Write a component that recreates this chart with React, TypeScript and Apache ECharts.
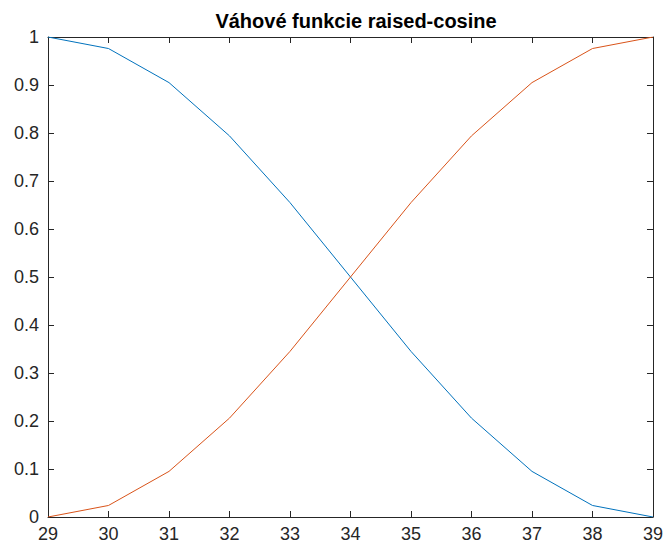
import React, { useEffect, useRef } from "react";
import * as echarts from "echarts";

const xValues = [29, 30, 31, 32, 33, 34, 35, 36, 37, 38, 39];
const fallingValues = [1, 0.976, 0.905, 0.794, 0.655, 0.5, 0.345, 0.206, 0.095, 0.024, 0];
const risingValues = [0, 0.024, 0.095, 0.206, 0.345, 0.5, 0.655, 0.794, 0.905, 0.976, 1];
const titleText = "Váhové funkcie raised-cosine";

export default function App() {
  const ref = useRef<HTMLDivElement>(null);
  useEffect(() => {
    if (!ref.current) return;
    const chart = echarts.init(ref.current, undefined, { renderer: "svg" });
    const axisColor = "#262626";
    const font = "Liberation Sans, Arial, Helvetica, sans-serif";
    const baseX = {
      type: "value" as const,
      min: 29,
      max: 39,
      interval: 1,
      axisLine: { show: true, onZero: false, lineStyle: { color: axisColor, width: 1 } },
      axisTick: { show: true, inside: true, length: 6, lineStyle: { color: axisColor } },
      splitLine: { show: false },
    };
    const baseY = {
      type: "value" as const,
      min: 0,
      max: 1,
      interval: 0.1,
      axisLine: { show: true, onZero: false, lineStyle: { color: axisColor, width: 1 } },
      axisTick: { show: true, inside: true, length: 6, lineStyle: { color: axisColor } },
      splitLine: { show: false },
    };
    chart.setOption({
      animation: false,
      backgroundColor: "#ffffff",
      title: {
        text: titleText,
        left: 351,
        textAlign: "center",
        top: 6,
        textStyle: { fontFamily: font, fontSize: 20, fontWeight: "bold", color: "#000" },
      },
      grid: { left: 48, right: 10, top: 37, bottom: 29, containLabel: false },
      xAxis: [
        {
          ...baseX,
          position: "bottom",
          axisLabel: {
            show: true,
            color: axisColor,
            fontFamily: font,
            fontSize: 18,
            margin: 8,
          },
        },
        { ...baseX, position: "top", axisLabel: { show: false } },
      ],
      yAxis: [
        {
          ...baseY,
          position: "left",
          axisLabel: {
            show: true,
            color: axisColor,
            fontFamily: font,
            fontSize: 18,
            margin: 9,
            formatter: (v: number) => String(Math.round(v * 10) / 10),
          },
        },
        { ...baseY, position: "right", axisLabel: { show: false } },
      ],
      series: [
        {
          type: "line",
          data: xValues.map((x, i) => [x, fallingValues[i]]),
          showSymbol: false,
          lineStyle: { color: "#0072BD", width: 1 },
          itemStyle: { color: "#0072BD" },
        },
        {
          type: "line",
          data: xValues.map((x, i) => [x, risingValues[i]]),
          showSymbol: false,
          lineStyle: { color: "#D95319", width: 1 },
          itemStyle: { color: "#D95319" },
        },
      ],
    });
    return () => chart.dispose();
  }, []);
  return <div ref={ref} style={{ width: 666, height: 546, position: "absolute", left: 0, top: 0 }} />;
}
